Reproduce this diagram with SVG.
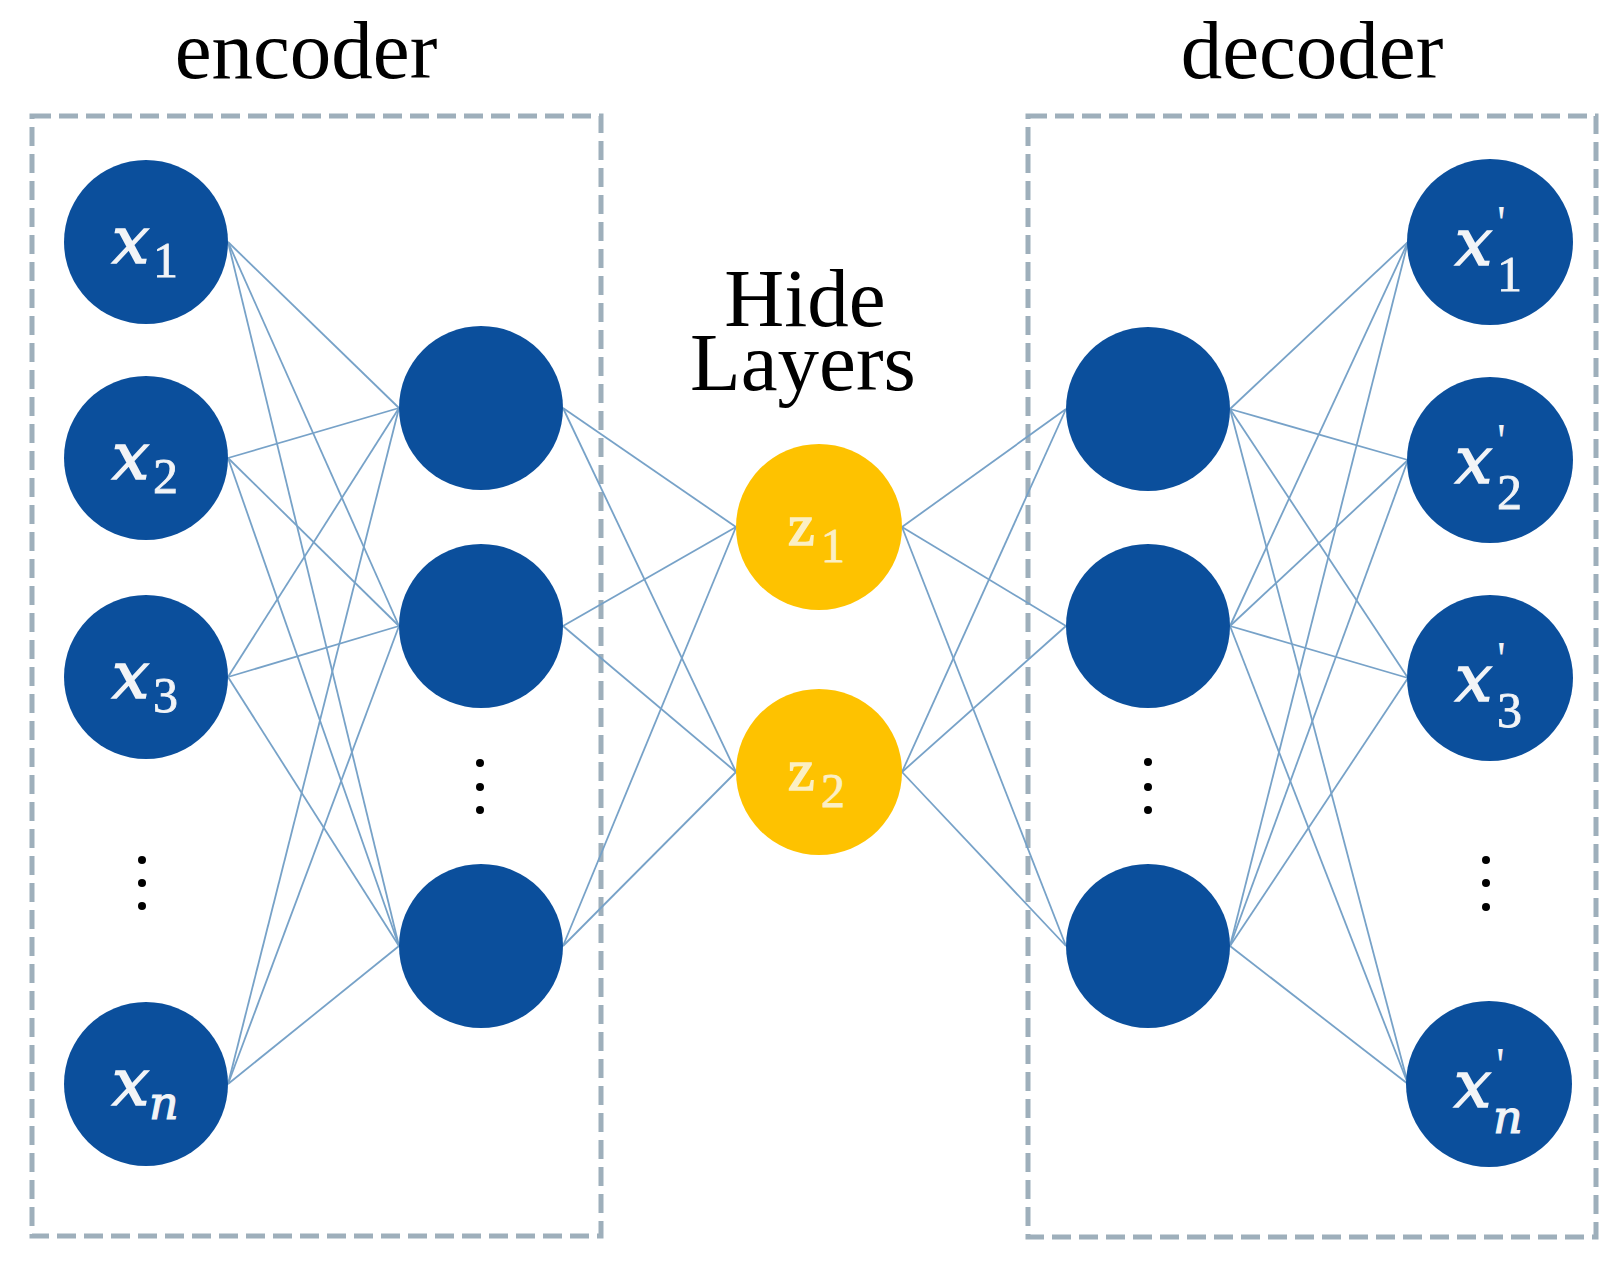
<svg xmlns="http://www.w3.org/2000/svg" width="1619" height="1262" viewBox="0 0 1619 1262">
<style>
.title{font-family:"Liberation Serif","Times New Roman",serif;font-size:83px;fill:#000;text-anchor:middle}
.box{fill:none;stroke:#9eafbb;stroke-width:5;stroke-dasharray:19 8}
.n{fill:#0b4f9c}
.z{fill:#fec200}
.lx{font-family:"DejaVu Serif","Liberation Serif",serif;font-style:italic;font-size:66px;fill:#f2f4f7;stroke:#f2f4f7;stroke-width:1.6}
.ls{font-family:"Liberation Serif","Times New Roman",serif;font-size:50px;fill:#f2f4f7;stroke:#f2f4f7;stroke-width:0.8}
.lsi{font-family:"DejaVu Serif","Liberation Serif",serif;font-style:italic;font-size:46px;fill:#f2f4f7;stroke:#f2f4f7;stroke-width:1.2}
.lp{font-family:"Liberation Serif","Times New Roman",serif;font-size:48px;fill:#f2f4f7}
.lz{font-family:"Liberation Serif","Times New Roman",serif;font-size:60px;fill:#fbefc4;stroke:#fbefc4;stroke-width:1.6}
.lzs{font-family:"Liberation Serif","Times New Roman",serif;font-size:48px;fill:#fbefc4;stroke:#fbefc4;stroke-width:0.8}
.dot{fill:#000}
#connectors line{stroke:#77a2c8;stroke-width:1.8}
</style>
<rect width="1619" height="1262" fill="#fff"/>
<text class="title" x="306" y="78">encoder</text>
<text class="title" x="1312" y="78">decoder</text>
<text class="title" x="805" y="326">Hide</text>
<text class="title" x="803" y="390">Layers</text>
<rect class="box" x="32" y="116" width="569" height="1120"/>
<rect class="box" x="1028" y="116" width="568" height="1121"/>
<g id="connectors">
<line x1="228" y1="242" x2="399" y2="408"/><line x1="228" y1="242" x2="399" y2="626"/><line x1="228" y1="242" x2="399" y2="946"/>
<line x1="228" y1="458" x2="399" y2="408"/><line x1="228" y1="458" x2="399" y2="626"/><line x1="228" y1="458" x2="399" y2="946"/>
<line x1="228" y1="677" x2="399" y2="408"/><line x1="228" y1="677" x2="399" y2="626"/><line x1="228" y1="677" x2="399" y2="946"/>
<line x1="228" y1="1084" x2="399" y2="408"/><line x1="228" y1="1084" x2="399" y2="626"/><line x1="228" y1="1084" x2="399" y2="946"/>
<line x1="563" y1="408" x2="736" y2="527"/><line x1="563" y1="408" x2="736" y2="772"/>
<line x1="563" y1="626" x2="736" y2="527"/><line x1="563" y1="626" x2="736" y2="772"/>
<line x1="563" y1="946" x2="736" y2="527"/><line x1="563" y1="946" x2="736" y2="772"/>
<line x1="902" y1="527" x2="1066" y2="409"/><line x1="902" y1="527" x2="1066" y2="626"/><line x1="902" y1="527" x2="1066" y2="946"/>
<line x1="902" y1="772" x2="1066" y2="409"/><line x1="902" y1="772" x2="1066" y2="626"/><line x1="902" y1="772" x2="1066" y2="946"/>
<line x1="1230" y1="409" x2="1408" y2="242"/><line x1="1230" y1="409" x2="1408" y2="460"/><line x1="1230" y1="409" x2="1408" y2="678"/><line x1="1230" y1="409" x2="1408" y2="1084"/>
<line x1="1230" y1="626" x2="1408" y2="242"/><line x1="1230" y1="626" x2="1408" y2="460"/><line x1="1230" y1="626" x2="1408" y2="678"/><line x1="1230" y1="626" x2="1408" y2="1084"/>
<line x1="1230" y1="946" x2="1408" y2="242"/><line x1="1230" y1="946" x2="1408" y2="460"/><line x1="1230" y1="946" x2="1408" y2="678"/><line x1="1230" y1="946" x2="1408" y2="1084"/>
</g>
<g id="x1"><circle class="n" cx="146" cy="242" r="82"/><text class="lx" x="112" y="263">x</text><text class="ls" x="153" y="277">1</text></g>
<g id="x2"><circle class="n" cx="146" cy="458" r="82"/><text class="lx" x="112" y="479">x</text><text class="ls" x="153" y="493">2</text></g>
<g id="x3"><circle class="n" cx="146" cy="677" r="82"/><text class="lx" x="112" y="698">x</text><text class="ls" x="153" y="712">3</text></g>
<g id="xn"><circle class="n" cx="146" cy="1084" r="82"/><text class="lx" x="112" y="1105">x</text><text class="lsi" x="149" y="1119">n</text></g>
<g id="in-dots"><circle class="dot" cx="142" cy="860" r="4"/><circle class="dot" cx="142" cy="883" r="4"/><circle class="dot" cx="142" cy="906" r="4"/></g>
<g id="h1"><circle class="n" cx="481" cy="408" r="82"/></g>
<g id="h2"><circle class="n" cx="481" cy="626" r="82"/></g>
<g id="h3"><circle class="n" cx="481" cy="946" r="82"/></g>
<g id="h-dots"><circle class="dot" cx="480" cy="763" r="4"/><circle class="dot" cx="480" cy="787" r="4"/><circle class="dot" cx="480" cy="810" r="4"/></g>
<g id="z1"><circle class="z" cx="819" cy="527" r="83"/><text class="lz" x="788" y="545">z</text><text class="lzs" x="821" y="562">1</text></g>
<g id="z2"><circle class="z" cx="819" cy="772" r="83"/><text class="lz" x="788" y="790">z</text><text class="lzs" x="821" y="807">2</text></g>
<g id="d1"><circle class="n" cx="1148" cy="409" r="82"/></g>
<g id="d2"><circle class="n" cx="1148" cy="626" r="82"/></g>
<g id="d3"><circle class="n" cx="1148" cy="946" r="82"/></g>
<g id="d-dots"><circle class="dot" cx="1148" cy="762" r="4"/><circle class="dot" cx="1148" cy="787" r="4"/><circle class="dot" cx="1148" cy="810" r="4"/></g>
<g id="y1"><circle class="n" cx="1490" cy="242" r="83"/><text class="lx" x="1455" y="265">x</text><text class="lp" x="1497" y="239">'</text><text class="ls" x="1497" y="291">1</text></g>
<g id="y2"><circle class="n" cx="1490" cy="460" r="83"/><text class="lx" x="1455" y="483">x</text><text class="lp" x="1497" y="457">'</text><text class="ls" x="1497" y="509">2</text></g>
<g id="y3"><circle class="n" cx="1490" cy="678" r="83"/><text class="lx" x="1455" y="701">x</text><text class="lp" x="1497" y="675">'</text><text class="ls" x="1497" y="727">3</text></g>
<g id="yn"><circle class="n" cx="1489" cy="1084" r="83"/><text class="lx" x="1454" y="1107">x</text><text class="lp" x="1496" y="1081">'</text><text class="lsi" x="1493" y="1133">n</text></g>
<g id="out-dots"><circle class="dot" cx="1486" cy="860" r="4"/><circle class="dot" cx="1486" cy="883" r="4"/><circle class="dot" cx="1486" cy="907" r="4"/></g>
</svg>
